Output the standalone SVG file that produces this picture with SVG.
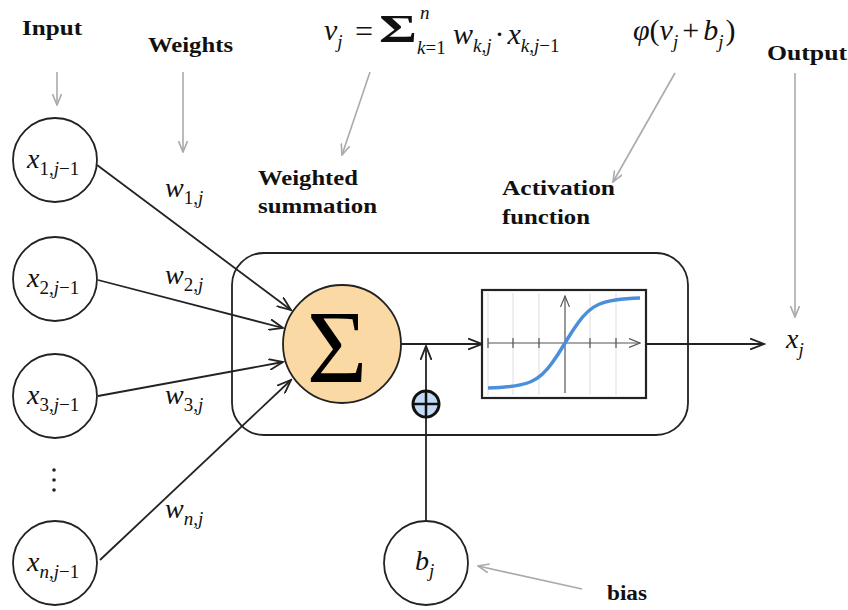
<svg xmlns="http://www.w3.org/2000/svg" width="848" height="610" viewBox="0 0 848 610">
<defs>
<style>
.node{fill:#fff;stroke:#222;stroke-width:1.8}
.blk{stroke:#222;stroke-width:1.8;fill:none}
.gry{stroke:#aaa;stroke-width:1.6;fill:none}
.lbl{font-family:"Liberation Serif","DejaVu Serif",serif;font-weight:bold;font-size:20px;fill:#111}
.math{font-family:"Liberation Serif","DejaVu Serif",serif;font-style:italic;fill:#111}
.grid{stroke:#ddd;stroke-width:1}
</style>
<marker id="ab" markerUnits="userSpaceOnUse" markerWidth="16" markerHeight="12" refX="14" refY="6" orient="auto"><path d="M0,0.5 L14,6 L0,11.5" fill="none" stroke="#222" stroke-width="1.8"/></marker>
<marker id="ag" markerUnits="userSpaceOnUse" markerWidth="12" markerHeight="10" refX="11" refY="5" orient="auto"><path d="M0,0.5 L11,5 L0,9.5" fill="none" stroke="#aaa" stroke-width="1.6"/></marker>
<marker id="as" markerUnits="userSpaceOnUse" markerWidth="12" markerHeight="10" refX="11" refY="5" orient="auto"><path d="M0,0.5 L11,5 L0,9.5" fill="none" stroke="#555" stroke-width="1.2"/></marker>
</defs>
<rect width="848" height="610" fill="#fff"/>

<g id="annotations">
<text class="lbl" x="22" y="35" textLength="60" lengthAdjust="spacingAndGlyphs">Input</text>
<text class="lbl" x="148" y="52" textLength="85" lengthAdjust="spacingAndGlyphs">Weights</text>
<text class="lbl" x="258" y="185" textLength="100" lengthAdjust="spacingAndGlyphs">Weighted</text>
<text class="lbl" x="258" y="213" textLength="119" lengthAdjust="spacingAndGlyphs">summation</text>
<text class="lbl" x="502" y="195" textLength="113" lengthAdjust="spacingAndGlyphs">Activation</text>
<text class="lbl" x="502" y="224" textLength="88" lengthAdjust="spacingAndGlyphs">function</text>
<text class="lbl" x="767" y="60" textLength="80" lengthAdjust="spacingAndGlyphs">Output</text>
<text class="lbl" x="607" y="600" textLength="40" lengthAdjust="spacingAndGlyphs">bias</text>
<text class="math" font-size="30" x="324" y="40">v<tspan font-size="19" dy="8">j</tspan></text>
<text font-family="Liberation Serif,serif" font-size="32" x="355" y="42" fill="#111">=</text>
<text font-family="Liberation Serif,serif" font-weight="bold" font-size="40" x="0" y="0" fill="#111" transform="translate(379,42) scale(1.45,1)">Σ</text>
<text class="math" font-size="19" x="417" y="54">k<tspan font-style="normal">=1</tspan></text>
<text class="math" font-size="19" x="420" y="19">n</text>
<text class="math" font-size="30" x="453" y="44">w<tspan font-size="19" dy="8">k,j</tspan><tspan font-style="normal" dy="-8" dx="3">·</tspan><tspan dx="3">x</tspan><tspan font-size="19" dy="8">k,j<tspan font-style="normal">−1</tspan></tspan></text>
<text class="math" font-size="30" x="633" y="40">φ<tspan font-style="normal">(</tspan>v<tspan font-size="19" dy="8">j</tspan><tspan font-style="normal" dy="-8" dx="4">+</tspan><tspan dx="4">b</tspan><tspan font-size="19" dy="8">j</tspan><tspan font-style="normal" dy="-8" dx="2">)</tspan></text>
</g>

<g id="connectors">
<line class="gry" x1="57" y1="72" x2="57" y2="105" marker-end="url(#ag)"/>
<line class="gry" x1="183" y1="72" x2="183" y2="152" marker-end="url(#ag)"/>
<line class="gry" x1="370" y1="72" x2="342" y2="155" marker-end="url(#ag)"/>
<line class="gry" x1="675" y1="73" x2="613" y2="182" marker-end="url(#ag)"/>
<line class="gry" x1="795" y1="73" x2="795" y2="317" marker-end="url(#ag)"/>
<line class="gry" x1="582" y1="589" x2="478" y2="566" marker-end="url(#ag)"/>
<line class="blk" x1="97" y1="165" x2="291" y2="310" marker-end="url(#ab)"/>
<line class="blk" x1="98" y1="280" x2="283" y2="328" marker-end="url(#ab)"/>
<line class="blk" x1="98" y1="396" x2="283" y2="362" marker-end="url(#ab)"/>
<line class="blk" x1="100" y1="560" x2="291" y2="380" marker-end="url(#ab)"/>
<line class="blk" x1="401" y1="344" x2="482" y2="344" marker-end="url(#ab)"/>
<line class="blk" x1="426" y1="521" x2="426" y2="346" marker-end="url(#ab)"/>
<line class="blk" x1="646" y1="344" x2="764" y2="344" marker-end="url(#ab)"/>
</g>

<g id="neuron">
<rect x="232" y="253" width="456" height="182" rx="32" ry="32" class="blk"/>
</g>

<g id="x1"><circle class="node" cx="55" cy="160" r="42"/><text class="math" font-size="28" x="27" y="168">x<tspan font-size="19" dy="7" font-style="normal">1,</tspan><tspan font-size="19">j</tspan><tspan font-size="19" font-style="normal">−1</tspan></text></g>
<g id="x2"><circle class="node" cx="55" cy="279" r="42"/><text class="math" font-size="28" x="27" y="287">x<tspan font-size="19" dy="7" font-style="normal">2,</tspan><tspan font-size="19">j</tspan><tspan font-size="19" font-style="normal">−1</tspan></text></g>
<g id="x3"><circle class="node" cx="55" cy="396" r="42"/><text class="math" font-size="28" x="27" y="404">x<tspan font-size="19" dy="7" font-style="normal">3,</tspan><tspan font-size="19">j</tspan><tspan font-size="19" font-style="normal">−1</tspan></text></g>
<g id="dots"><circle cx="54" cy="470" r="1.8" fill="#222"/><circle cx="54" cy="480" r="1.8" fill="#222"/><circle cx="54" cy="490" r="1.8" fill="#222"/></g>
<g id="xn"><circle class="node" cx="55" cy="563" r="42"/><text class="math" font-size="28" x="27" y="571">x<tspan font-size="19" dy="7">n</tspan><tspan font-size="19" font-style="normal">,</tspan><tspan font-size="19">j</tspan><tspan font-size="19" font-style="normal">−1</tspan></text></g>

<g id="weights">
<text class="math" font-size="28" x="165" y="197">w<tspan font-size="19" dy="7" font-style="normal">1,</tspan><tspan font-size="19">j</tspan></text>
<text class="math" font-size="28" x="165" y="284">w<tspan font-size="19" dy="7" font-style="normal">2,</tspan><tspan font-size="19">j</tspan></text>
<text class="math" font-size="28" x="165" y="404">w<tspan font-size="19" dy="7" font-style="normal">3,</tspan><tspan font-size="19">j</tspan></text>
<text class="math" font-size="28" x="165" y="518">w<tspan font-size="19" dy="7">n</tspan><tspan font-size="19" font-style="normal">,</tspan><tspan font-size="19">j</tspan></text>
</g>

<g id="sum"><circle cx="342" cy="344" r="59" fill="#fad9a4" stroke="#222" stroke-width="1.8"/><text x="337" y="382" text-anchor="middle" font-family="Liberation Serif,serif" font-size="104" fill="#000">Σ</text></g>

<g id="activation">
<rect x="482" y="290" width="164" height="108" fill="#fff" stroke="#222" stroke-width="2.2"/>
<line class="grid" x1="488" y1="293" x2="488" y2="395"/>
<line class="grid" x1="513" y1="293" x2="513" y2="395"/>
<line class="grid" x1="539" y1="293" x2="539" y2="395"/>
<line class="grid" x1="590" y1="293" x2="590" y2="395"/>
<line class="grid" x1="616" y1="293" x2="616" y2="395"/>
<line x1="565" y1="393" x2="565" y2="296" stroke="#555" stroke-width="1.2" marker-end="url(#as)"/>
<line x1="488" y1="343" x2="640" y2="343" stroke="#555" stroke-width="1.2" marker-end="url(#as)"/>
<g stroke="#555" stroke-width="1.2"><line x1="488" y1="338" x2="488" y2="348"/><line x1="513" y1="338" x2="513" y2="348"/><line x1="539" y1="338" x2="539" y2="348"/><line x1="590" y1="338" x2="590" y2="348"/><line x1="616" y1="338" x2="616" y2="348"/></g>
<path d="M488,388 C530,387 540,380 552,363 C560,352 563,346 565,343 C567,340 570,334 578,323 C590,306 600,299 640,298" fill="none" stroke="#4a8fdb" stroke-width="3.5"/>
</g>

<g id="bias-add"><circle cx="426" cy="404" r="13" fill="#c3daf6" stroke="#111" stroke-width="3"/><line x1="413" y1="404" x2="439" y2="404" stroke="#111" stroke-width="2.5"/><line x1="426" y1="391" x2="426" y2="417" stroke="#111" stroke-width="2.5"/></g>

<g id="bias"><circle class="node" cx="426" cy="563" r="42"/><text class="math" font-size="28" x="415" y="570">b<tspan font-size="19" dy="7">j</tspan></text></g>

<g id="output"><text class="math" font-size="28" x="786" y="348">x<tspan font-size="19" dy="8">j</tspan></text></g>
</svg>
